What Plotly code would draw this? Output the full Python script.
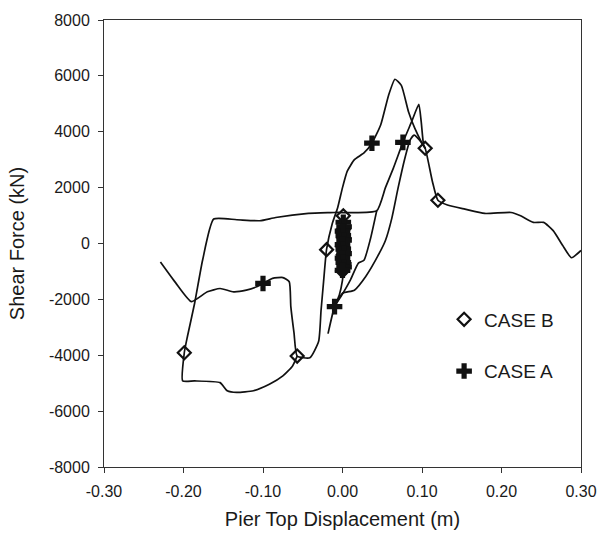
import plotly.graph_objects as go

# Hysteresis branches: pier top displacement (m) vs shear force (kN)
branch1_x = [-0.229, -0.210, -0.190, -0.170, -0.154, -0.137, -0.121, -0.108, -0.100, -0.088,
             -0.075, -0.067, -0.065, -0.061, -0.057, -0.041, -0.030, -0.027, -0.024, -0.020,
             -0.013, -0.006, 0.000, 0.006, 0.015, 0.027, 0.037, 0.048, 0.058, 0.066, 0.074,
             0.083, 0.091, 0.099, 0.104, 0.113, 0.120, 0.132, 0.154, 0.179, 0.212, 0.224,
             0.240, 0.253, 0.265, 0.277, 0.288, 0.300]
branch1_y = [-660, -1400, -2080, -1730, -1610, -1730, -1670, -1550, -1430, -1250,
             -1220, -1370, -2260, -3200, -4030, -4090, -3500, -2400, -1430, -200,
             700, 1290, 2000, 2590, 3000, 3240, 3590, 4240, 5310, 5880, 5660,
             4720, 4120, 3650, 3410, 2230, 1550, 1380, 1230, 1075, 1110, 990,
             755, 755, 460, -70, -510, -250]

branch2_x = [-0.057, -0.063, -0.075, -0.092, -0.112, -0.133, -0.145, -0.154, -0.186, -0.201,
             -0.199, -0.195, -0.186, -0.176, -0.162, -0.133, -0.104, -0.084, -0.043, -0.010,
             0.043, 0.054, 0.064, 0.076, 0.087, 0.096, 0.099, 0.102, 0.104]
branch2_y = [-4030, -4390, -4740, -5040, -5270, -5330, -5270, -4980, -4920, -4920,
             -3910, -3320, -2140, -600, 875, 850, 815, 930, 1075, 1110,
             1170, 2000, 2700, 3620, 4360, 4980, 4360, 3530, 3410]

branch3_x = [0.001, 0.000, -0.004, -0.010, -0.014, -0.018, -0.010, -0.002, 0.010, 0.020,
             0.027, 0.035, 0.043]
branch3_y = [-1020, -1310, -1840, -2260, -2700, -3200, -2260, -1900, -1300, -700,
             -600, 150, 1170]

branch4_x = [-0.010, 0.000, 0.015, 0.029, 0.046, 0.054, 0.062, 0.070, 0.078, 0.085,
             0.090, 0.097, 0.104]
branch4_y = [-2260, -1780, -1670, -1190, -365, 106, 900, 2000, 3000, 3700,
             3880, 3700, 3410]

# Marked points of each case
case_b_x = [-0.199, -0.057, -0.020, 0.001, 0.104, 0.120,
            0.001, 0.002, 0.000, 0.001, 0.002, 0.000]
case_b_y = [-3910, -4030, -220, 990, 3410, 1550,
            500, 200, -100, -400, -700, -980]

case_a_x = [-0.100, -0.010, 0.037, 0.076,
            0.001, 0.002, 0.000, 0.001, 0.002, 0.000, 0.001, 0.002, 0.000,
            0.001, 0.002, 0.000]
case_a_y = [-1430, -2260, 3590, 3620,
            760, 600, 440, 280, 120, -40,
            -200, -360, -520, -680, -840, -960]

x_ticks = [-0.30, -0.20, -0.10, 0.00, 0.10, 0.20, 0.30]
x_tick_text = ["-0.30", "-0.20", "-0.10", "0.00", "0.10", "0.20", "0.30"]
y_ticks = [-8000, -6000, -4000, -2000, 0, 2000, 4000, 6000, 8000]
y_tick_text = ["-8000", "-6000", "-4000", "-2000", "0", "2000", "4000", "6000", "8000"]

FONT = "Liberation Sans, Arial, sans-serif"
INK = "#111111"

fig = go.Figure()
for bx, by in [(branch1_x, branch1_y), (branch2_x, branch2_y),
               (branch3_x, branch3_y), (branch4_x, branch4_y)]:
    fig.add_trace(go.Scatter(x=bx, y=by, mode="lines", showlegend=False,
                             line=dict(color=INK, width=1.7, shape="spline", smoothing=0.5),
                             hoverinfo="skip"))

fig.add_trace(go.Scatter(x=case_b_x, y=case_b_y, mode="markers", name="CASE B",
                         legendgroup="b",
                         marker=dict(symbol="diamond-open", size=10, color=INK,
                                     line=dict(color=INK, width=2.2))))
fig.add_trace(go.Scatter(x=case_a_x, y=case_a_y, mode="markers", name="CASE A",
                         legendgroup="a",
                         marker=dict(symbol="cross", size=13, color=INK,
                                     line=dict(width=0))))

axis_common = dict(showline=True, linecolor="#333333", linewidth=1, mirror=True,
                   ticks="outside", ticklen=5, tickwidth=1, tickcolor="#333333",
                   showgrid=False, zeroline=False,
                   tickfont=dict(family=FONT, size=16, color="#1a1a1a"))

fig.update_xaxes(range=[-0.30, 0.30], tickvals=x_ticks, ticktext=x_tick_text,
                 ticklabelstandoff=5,
                 title=dict(text="Pier Top Displacement (m)", standoff=12,
                            font=dict(family=FONT, size=20, color="#1a1a1a")),
                 **axis_common)
fig.update_yaxes(range=[-8000, 8000], tickvals=y_ticks, ticktext=y_tick_text,
                 ticklabelstandoff=5,
                 title=dict(text="Shear Force (kN)", standoff=18,
                            font=dict(family=FONT, size=20, color="#1a1a1a")),
                 **axis_common)

fig.update_layout(
    width=609, height=538,
    margin=dict(l=104, r=17, t=17, b=70),
    paper_bgcolor="white", plot_bgcolor="white",
    showlegend=True,
    legend=dict(x=0.713, y=0.3725, xanchor="left", yanchor="top",
                traceorder="grouped", tracegroupgap=24,
                bgcolor="rgba(0,0,0,0)",
                font=dict(family=FONT, size=19, color="#1a1a1a")),
)

fig.write_html("out.html")
